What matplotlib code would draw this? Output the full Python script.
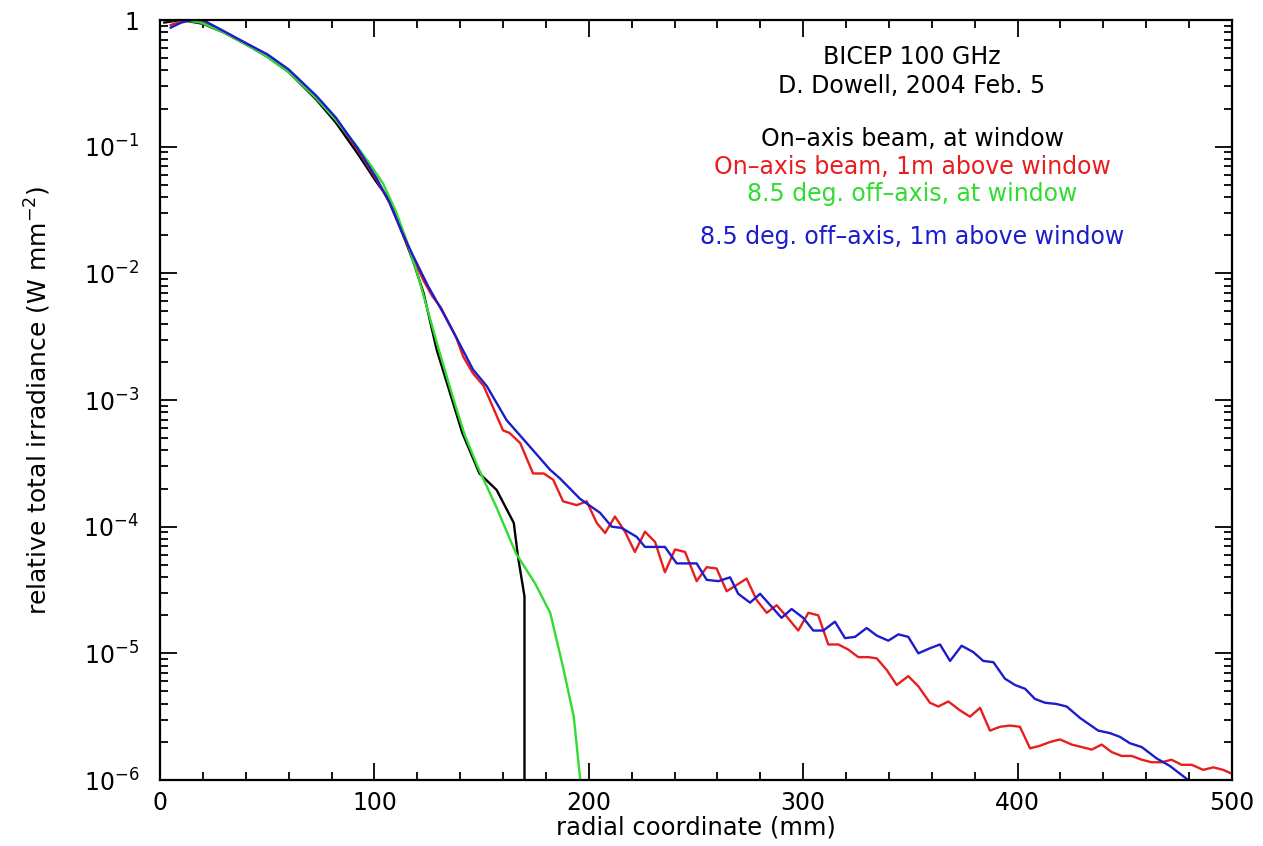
import numpy as np
import matplotlib
matplotlib.use("Agg")
import matplotlib.pyplot as plt
from matplotlib.ticker import MultipleLocator, LogLocator, NullFormatter, FixedLocator, FixedFormatter

# ---- data (radial coordinate in mm, log10 of relative irradiance) ----
black_x = [2, 10, 20, 30, 42, 50, 60, 73, 82, 92, 101, 107, 113, 118, 123, 129, 135, 141,
           149, 157, 165, 167, 170, 170]
black_log = [-0.02, 0.0, -0.03, -0.10, -0.21, -0.29, -0.41, -0.63, -0.81, -1.05, -1.28, -1.42,
             -1.68, -1.90, -2.16, -2.60, -2.93, -3.26, -3.58, -3.71, -3.97, -4.24, -4.55, -6.0]

green_x = [0, 10, 19, 30, 42, 50, 60, 73, 82, 92, 98, 104, 110, 115, 120, 125, 130, 137, 142,
           148, 157, 166, 175, 182, 188, 193, 196]
green_log = [0.0, 0.0, -0.02, -0.10, -0.21, -0.29, -0.41, -0.62, -0.79, -1.00, -1.14, -1.29,
             -1.51, -1.74, -2.00, -2.30, -2.60, -3.00, -3.27, -3.52, -3.85, -4.21, -4.45,
             -4.68, -5.11, -5.50, -6.0]

red_x = [5, 10, 15, 20, 30, 42, 50, 60, 73, 82, 92, 101, 107, 113, 118, 123, 127, 131, 138,
         141.5, 146, 151, 160, 163, 168, 174, 179, 183.4, 188, 194.4, 199, 203.7, 207.6,
         212.2, 216.9, 221.5, 226.2, 230.9, 235.5, 240.2, 244.9, 250.3, 255, 259.6, 264.3,
         269, 273.6, 278.3, 283, 287.6, 292.3, 297.7, 302.4, 307, 311.7, 316.4, 321, 325.7,
         330.4, 334.3, 338.9, 343.6, 349, 353.7, 359.1, 363, 367.7, 373.1, 377.8, 382.5,
         387.1, 391.8, 396.5, 401.1, 405.8, 410.4, 415.1, 419.8, 425.2, 429.9, 434.6, 439.2,
         443.9, 448.5, 453.2, 457.9, 462.5, 467.2, 471.8, 476.5, 481.2, 486.6, 491.3, 495.9,
         499.9]
red_log = [-0.04, -0.01, 0.0, -0.01, -0.10, -0.20, -0.28, -0.40, -0.61, -0.78, -1.02, -1.26,
           -1.44, -1.68, -1.88, -2.06, -2.18, -2.27, -2.50, -2.66, -2.79, -2.89, -3.24, -3.26,
           -3.34, -3.58, -3.58, -3.63, -3.80, -3.83, -3.80, -3.97, -4.05, -3.92, -4.04, -4.20,
           -4.04, -4.12, -4.36, -4.18, -4.20, -4.43, -4.32, -4.33, -4.51, -4.46, -4.41, -4.58,
           -4.68, -4.62, -4.71, -4.82, -4.68, -4.70, -4.93, -4.93, -4.97, -5.03, -5.03, -5.04,
           -5.13, -5.25, -5.18, -5.26, -5.39, -5.42, -5.38, -5.45, -5.50, -5.43, -5.61, -5.58,
           -5.57, -5.58, -5.75, -5.73, -5.70, -5.68, -5.72, -5.74, -5.76, -5.72, -5.78, -5.81,
           -5.81, -5.84, -5.86, -5.86, -5.84, -5.88, -5.88, -5.92, -5.90, -5.92, -5.95]

blue_x = [5, 10, 15, 20, 30, 42, 50, 60, 73, 82, 92, 101, 107, 113, 118, 125, 132, 138, 146,
          152.4, 161.7, 172.6, 181.9, 186.6, 195.9, 205.2, 210.7, 215.3, 222.3, 226.2, 235.5,
          241, 250.3, 255, 260.4, 265.9, 269.7, 275.2, 279.9, 289.9, 294.6, 300, 304.7, 309.4,
          314.8, 319.5, 324.2, 329.6, 334.3, 339.7, 344.4, 349, 353.7, 359.1, 363.8, 368.5,
          373.9, 379.3, 384, 388.7, 394.1, 398.8, 403.5, 408.1, 412.8, 418.2, 422.9, 429.1,
          437.6, 443.1, 447.8, 452.4, 457.9, 464.9, 471.1, 475.7, 479.6]
blue_log = [-0.06, -0.02, 0.0, 0.0, -0.09, -0.20, -0.27, -0.39, -0.60, -0.77, -1.01, -1.25,
            -1.44, -1.68, -1.86, -2.10, -2.31, -2.50, -2.76, -2.89, -3.16, -3.37, -3.55,
            -3.62, -3.78, -3.89, -4.00, -4.01, -4.08, -4.16, -4.16, -4.29, -4.29, -4.42,
            -4.43, -4.40, -4.53, -4.60, -4.53, -4.72, -4.65, -4.72, -4.82, -4.82, -4.75,
            -4.88, -4.87, -4.80, -4.86, -4.90, -4.85, -4.87, -5.00, -4.96, -4.93, -5.06,
            -4.94, -4.99, -5.06, -5.07, -5.20, -5.25, -5.28, -5.36, -5.39, -5.40, -5.42,
            -5.51, -5.61, -5.63, -5.66, -5.71, -5.74, -5.83, -5.89, -5.95, -6.0]

x_ticks = [0, 100, 200, 300, 400, 500]
y_ticks = [1e-6, 1e-5, 1e-4, 1e-3, 1e-2, 1e-1, 1]
y_tick_labels = [r"$10^{-6}$", r"$10^{-5}$", r"$10^{-4}$", r"$10^{-3}$", r"$10^{-2}$",
                 r"$10^{-1}$", "1"]

labels = ["On\u2013axis beam, at window", "On\u2013axis beam, 1m above window",
          "8.5 deg. off\u2013axis, at window", "8.5 deg. off\u2013axis, 1m above window"]
colors = ["black", "#e81e1e", "#30dc30", "#1c1ccc"]

# ---- figure ----
plt.rcParams['font.family'] = ['DejaVu Sans']
plt.rcParams['mathtext.fontset'] = 'dejavusans'
fig = plt.figure(figsize=(12.63, 8.46), dpi=100)
ax = fig.add_axes([160 / 1263, 66 / 846, 1072 / 1263, 760 / 846])

series = [(black_x, black_log, colors[0]), (red_x, red_log, colors[1]),
          (green_x, green_log, colors[2]), (blue_x, blue_log, colors[3])]
for xs, ls, c in series:
    ax.plot(xs, 10.0 ** np.array(ls), color=c, lw=1.7)

ax.set_yscale('log')
ax.set_xlim(0, 500)
ax.set_ylim(1e-6, 1)

ax.xaxis.set_major_locator(FixedLocator(x_ticks))
ax.xaxis.set_minor_locator(MultipleLocator(20))
ax.yaxis.set_major_locator(FixedLocator(y_ticks))
ax.yaxis.set_major_formatter(FixedFormatter(y_tick_labels))
ax.yaxis.set_minor_locator(LogLocator(base=10, subs=np.arange(2, 10), numticks=20))
ax.yaxis.set_minor_formatter(NullFormatter())

ax.tick_params(which='both', direction='in', top=True, right=True, width=1.3, colors='black')
ax.tick_params(which='major', length=12, labelsize=17)
ax.tick_params(which='minor', length=6)
ax.tick_params(axis='x', which='major', pad=8)
ax.tick_params(axis='y', which='major', pad=15)
for s in ax.spines.values():
    s.set_linewidth(1.6)

ax.set_xlabel("radial coordinate (mm)", fontsize=17.5, labelpad=0)
ax.set_ylabel(r"relative total irradiance (W mm$^{-2}$)", fontsize=18, labelpad=22)

cx = 0.7015
ax.text(cx, 0.951, "BICEP 100 GHz", transform=ax.transAxes, ha='center', va='center',
        fontsize=17)
ax.text(cx, 0.913, "D. Dowell, 2004 Feb. 5", transform=ax.transAxes, ha='center',
        va='center', fontsize=17)
for lab, c, yy in zip(labels, colors, [0.843, 0.806, 0.771, 0.714]):
    ax.text(cx, yy, lab, transform=ax.transAxes, ha='center', va='center', fontsize=17,
            color=c)

fig.savefig("out.png", dpi=100)
